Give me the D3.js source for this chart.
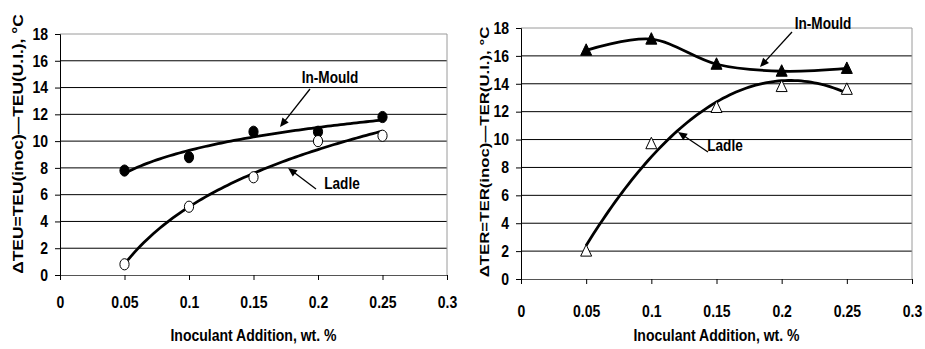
<!DOCTYPE html>
<html>
<head>
<meta charset="utf-8">
<script src="https://cdn.jsdelivr.net/npm/d3@7"></script>
<style>
  body { margin: 0; background: #fff; }
  svg text { font-family: "Liberation Sans", Arial, sans-serif; font-weight: bold; fill: #000; }
</style>
</head>
<body>
<svg id="chart" width="925" height="349"></svg>
<script>
// inoculant addition, wt.%
const additions = [0.05, 0.1, 0.15, 0.2, 0.25];
const xTicks = [0, 0.05, 0.1, 0.15, 0.2, 0.25, 0.3];
const yTicks = [0, 2, 4, 6, 8, 10, 12, 14, 16, 18];

// left panel: delta TEU
const teuInMould = [7.8, 8.8, 10.7, 10.7, 11.8];
const teuLadle = [0.8, 5.1, 7.3, 10.0, 10.4];
// right panel: delta TER
const terInMould = [16.4, 17.2, 15.4, 14.9, 15.1];
const terLadle = [2.0, 9.7, 12.3, 13.8, 13.6];

const svg = d3.select('#chart');
const SQUEEZE = 0.85; // the source font is a condensed sans

// least squares fits, like the spreadsheet trendlines
function logFit(xs, ys) {
  const L = xs.map(Math.log);
  const mL = d3.mean(L), mY = d3.mean(ys);
  const a = d3.sum(L, (l, i) => (l - mL) * (ys[i] - mY)) / d3.sum(L, l => (l - mL) ** 2);
  return x => mY + a * (Math.log(x) - mL);
}

function polyFit(xs, ys, deg) {
  const c = d3.mean(xs), s = 0.05;
  const n = deg + 1;
  const A = d3.range(n).map(() => new Array(n + 1).fill(0));
  xs.forEach((x, k) => {
    const t = (x - c) / s;
    for (let i = 0; i < n; i++) {
      for (let j = 0; j < n; j++) A[i][j] += Math.pow(t, i + j);
      A[i][n] += Math.pow(t, i) * ys[k];
    }
  });
  for (let i = 0; i < n; i++) {
    for (let r = 0; r < n; r++) {
      if (r === i) continue;
      const f = A[r][i] / A[i][i];
      for (let j = i; j <= n; j++) A[r][j] -= f * A[i][j];
    }
  }
  const coef = A.map((row, i) => row[n] / row[i]);
  return x => {
    const t = (x - c) / s;
    return d3.sum(coef, (k, i) => k * Math.pow(t, i));
  };
}

function label(g, x, y, str, size, anchor) {
  return g.append('text')
    .attr('transform', `translate(${x},${y}) scale(${SQUEEZE},1)`)
    .attr('text-anchor', anchor || 'middle').attr('font-size', size).text(str);
}

function panel(o) {
  const x = d3.scaleLinear().domain([0, 0.3]).range([o.left, o.right]);
  const y = d3.scaleLinear().domain([0, 18]).range([o.bottom, o.top]);
  const g = svg.append('g');

  // horizontal grid
  g.selectAll('.grid').data(yTicks.filter(v => v > 0 && v < 18)).join('line')
    .attr('x1', o.left).attr('x2', o.right)
    .attr('y1', d => y(d)).attr('y2', d => y(d))
    .attr('stroke', '#000').attr('stroke-width', 1);
  // plot-area border top/right
  g.append('path')
    .attr('d', `M${o.left},${y(18)}H${o.right}V${o.bottom}`)
    .attr('fill', 'none').attr('stroke', '#9a9a9a').attr('stroke-width', 1);

  const yAxis = g.append('g').attr('transform', `translate(${o.left},0)`)
    .call(d3.axisLeft(y).tickValues(yTicks).tickSize(5));
  const xAxis = g.append('g').attr('transform', `translate(0,${o.bottom})`)
    .call(d3.axisBottom(x).tickValues(xTicks).tickSize(5).tickPadding(o.xPad)
      .tickFormat(d => String(+d.toFixed(2))));
  [yAxis, xAxis].forEach(a => {
    a.select('.domain').attr('stroke', '#000').attr('stroke-width', 1);
    a.selectAll('.tick line').attr('stroke', '#000');
    a.selectAll('text').attr('font-size', 16.5).attr('font-family', null)
      .attr('transform', `scale(${SQUEEZE},1)`);
  });
  yAxis.selectAll('text').attr('x', -14);
  xAxis.select('.domain').attr('stroke', '#555');

  // trend / smoothed curves
  const xs = d3.range(0.05, 0.25001, 0.0025);
  o.series.forEach(s => {
    const d = s.fit
      ? d3.line().x(v => x(v)).y(v => y(s.fit(v)))(xs)
      : d3.line().x(v => x(v[0])).y(v => y(v[1])).curve(d3.curveCardinal.tension(0))(
          additions.map((a, i) => [a, s.values[i]]));
    g.append('path').attr('d', d)
      .attr('fill', 'none').attr('stroke', '#000').attr('stroke-width', 2.8);
  });

  // markers
  o.series.forEach(s => {
    const pts = additions.map((a, i) => [x(a), y(s.values[i])]);
    if (o.marker === 'circle') {
      g.selectAll(null).data(pts).join('ellipse')
        .attr('cx', d => d[0]).attr('cy', d => d[1])
        .attr('rx', 4.6).attr('ry', 5.6)
        .attr('fill', s.filled ? '#000' : '#fff')
        .attr('stroke', '#000').attr('stroke-width', 1);
    } else {
      g.selectAll(null).data(pts).join('path')
        .attr('d', d => `M${d[0]},${d[1] - 6.5}L${d[0] + 5.5},${d[1] + 5}L${d[0] - 5.5},${d[1] + 5}Z`)
        .attr('fill', s.filled ? '#000' : '#fff')
        .attr('stroke', '#000').attr('stroke-width', 1);
    }
  });

  // annotations
  o.notes.forEach(n => {
    label(g, n.tx, n.ty, n.text, 16);
    const ang = Math.atan2(n.y2 - n.y1, n.x2 - n.x1);
    g.append('line').attr('x1', n.x1).attr('y1', n.y1)
      .attr('x2', n.x2 - 6 * Math.cos(ang)).attr('y2', n.y2 - 6 * Math.sin(ang))
      .attr('stroke', '#000').attr('stroke-width', 1.3);
    const h = 9, w = 4;
    const bx = n.x2 - h * Math.cos(ang), by = n.y2 - h * Math.sin(ang);
    g.append('path')
      .attr('d', `M${n.x2},${n.y2}L${bx - w * Math.sin(ang)},${by + w * Math.cos(ang)}L${bx + w * Math.sin(ang)},${by - w * Math.cos(ang)}Z`)
      .attr('fill', '#000');
  });

  // axis titles
  label(g, (o.left + o.right) / 2, o.xTitleY, 'Inoculant Addition, wt. %', 16.5);
  g.append('text')
    .attr('transform', `translate(${o.yTitleX},${o.yTitleY}) rotate(-90) scale(1,0.8)`)
    .attr('text-anchor', 'middle').attr('font-size', o.yTitleSize)
    .text(o.yTitle);
}

panel({
  left: 60, right: 447, top: 34, bottom: 275, xPad: 16, xTitleY: 341,
  yTitleX: 23, yTitleY: 144, yTitleSize: 17.4,
  yTitle: '\u0394TEU=TEU(inoc)\u2014TEU(U.I.), \u00b0C',
  marker: 'circle',
  series: [
    { values: teuInMould, filled: true, fit: logFit(additions, teuInMould) },
    { values: teuLadle, filled: false, fit: logFit(additions, teuLadle) }
  ],
  notes: [
    { text: 'In-Mould', tx: 330, ty: 83, x1: 310, y1: 89, x2: 280, y2: 127 },
    { text: 'Ladle', tx: 342, ty: 189, x1: 316, y1: 189, x2: 288, y2: 168 }
  ]
});

panel({
  left: 521, right: 912, top: 28, bottom: 279, xPad: 21.5, xTitleY: 341,
  yTitleX: 489, yTitleY: 152, yTitleSize: 16.8,
  yTitle: '\u0394TER=TER(inoc)\u2014TER(U.I.), \u00b0C',
  marker: 'triangle',
  series: [
    { values: terInMould, filled: true, fit: null },
    { values: terLadle, filled: false, fit: polyFit(additions, terLadle, 2) }
  ],
  notes: [
    { text: 'In-Mould', tx: 823, ty: 29, x1: 792, y1: 32, x2: 760, y2: 67 },
    { text: 'Ladle', tx: 725, ty: 151, x1: 708, y1: 152, x2: 678, y2: 132 }
  ]
});
</script>
</body>
</html>
